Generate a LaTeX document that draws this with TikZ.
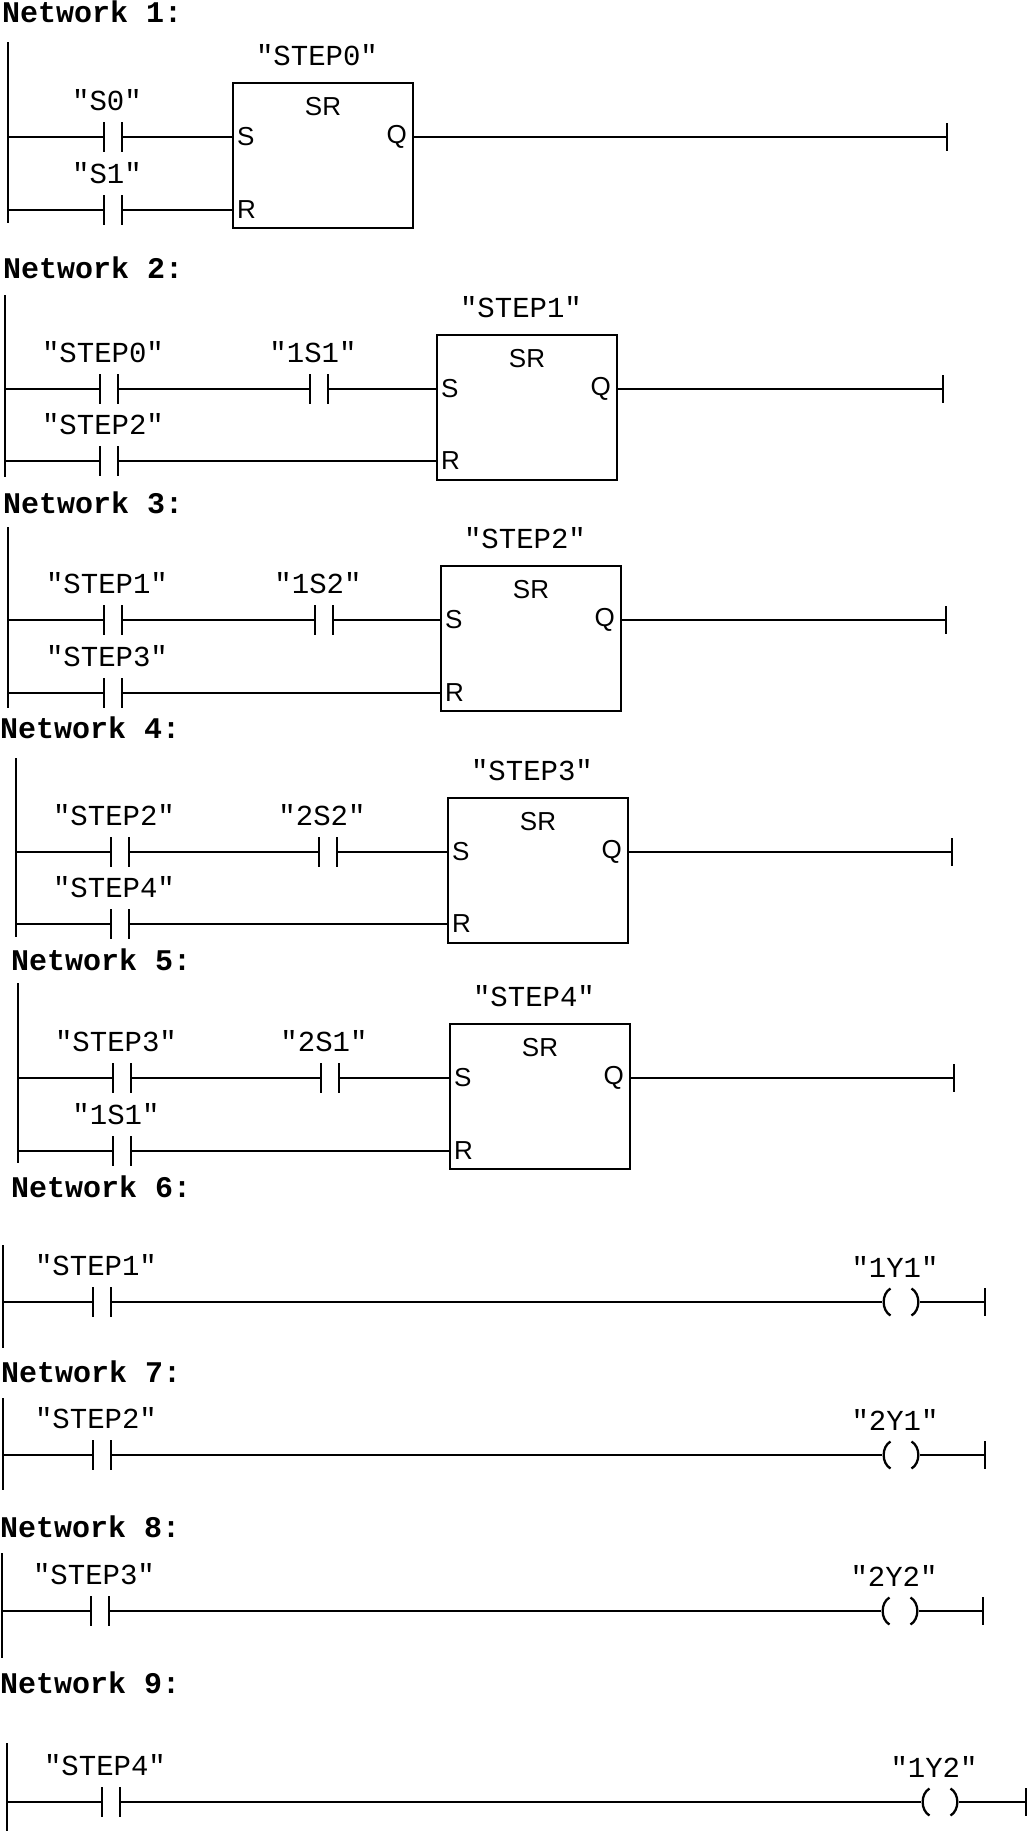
\documentclass[tikz,border=0pt]{standalone}
\usepackage{fontspec}
\newfontfamily\tagfont{Liberation Mono}
\newfontfamily\pinfont{Liberation Sans}
\usetikzlibrary{positioning}

\begin{document}
\begin{tikzpicture}[x=1pt,y=-1pt,
    ttl/.style={font=\tagfont\bfseries\fontsize{30}{30}\selectfont,anchor=base west,inner sep=0pt},
    tag/.style={font=\tagfont\fontsize{29}{29}\selectfont,inner sep=0pt,xshift=-6pt},
    ctag/.style={label={[tag,label distance=11pt]above:{#1}}},
    btag/.style={label={[tag,label distance=17.5pt]above:{#1}}},
    pinl/.style={font=\pinfont\fontsize{26}{26}\selectfont,inner sep=0pt},
    wire/.style={line width=2.3pt},
    contact/.style={minimum width=18pt,minimum height=30pt,inner sep=0pt,outer sep=0pt,
      append after command={(\tikzlastnode.north west) edge[wire] (\tikzlastnode.south west)
        (\tikzlastnode.north east) edge[wire] (\tikzlastnode.south east)}},
    coil/.style={minimum width=38pt,minimum height=27pt,inner sep=0pt,outer sep=0pt,
      append after command={([xshift=8.5pt]\tikzlastnode.north west) edge[wire,bend right=60] ([xshift=8.5pt]\tikzlastnode.south west)
        ([xshift=-8.5pt]\tikzlastnode.north east) edge[wire,bend left=60] ([xshift=-8.5pt]\tikzlastnode.south east)}},
    srbox/.style={draw,line width=2pt,minimum width=180pt,minimum height=145pt,inner sep=0pt,outer sep=0pt},
    endbar/.style={minimum width=0pt,minimum height=28pt,inner sep=0pt,outer sep=0pt,
      append after command={(\tikzlastnode.north) edge[wire] (\tikzlastnode.south)}}]
  \path[use as bounding box,fill=white] (0,0) rectangle (1028,1831);

  \node[ttl] (t1) at (2,22) {Network 1:};
  \coordinate (r1a) at (8,42);
  \coordinate (r1b) at (8,223);
  \node[contact,ctag={"S0"}] (c11) at (113,137) {};
  \node[contact,ctag={"S1"}] (c12) at (113,210) {};
  \node[srbox,btag={"STEP0"}] (b1) at (323,155.5) {};
  \node[pinl,below=14pt of b1.north] (b1n) {SR};
  \node[pinl,anchor=west,xshift=4pt] (b1s) at (b1.west |- c11) {S};
  \node[pinl,anchor=west,xshift=4pt] (b1r) at (b1.west |- c12) {R};
  \node[pinl,anchor=east,xshift=-6pt] (b1q) at (b1.east |- c11) {Q};
  \node[endbar] (e1) at (947,137) {};
  \draw[wire] (r1a) -- (r1b)
    (c11 -| r1a) -- (c11.west) (c11.east) -- (c11 -| b1.west)
    (c12 -| r1a) -- (c12.west) (c12.east) -- (c12 -| b1.west)
    (b1.east |- c11) -- (e1.center);

  \node[ttl] (t2) at (3,278) {Network 2:};
  \coordinate (r2a) at (5,295);
  \coordinate (r2b) at (5,477);
  \node[contact,ctag={"STEP0"}] (c21) at (109,389) {};
  \node[contact,ctag={"1S1"}] (c22) at (319,389) {};
  \node[contact,ctag={"STEP2"}] (c23) at (109,461) {};
  \node[srbox,btag={"STEP1"}] (b2) at (527,407.5) {};
  \node[pinl,below=14pt of b2.north] (b2n) {SR};
  \node[pinl,anchor=west,xshift=4pt] (b2s) at (b2.west |- c21) {S};
  \node[pinl,anchor=west,xshift=4pt] (b2r) at (b2.west |- c23) {R};
  \node[pinl,anchor=east,xshift=-6pt] (b2q) at (b2.east |- c21) {Q};
  \node[endbar] (e2) at (943,389) {};
  \draw[wire] (r2a) -- (r2b)
    (c21 -| r2a) -- (c21.west) (c21.east) -- (c22.west) (c22.east) -- (c22 -| b2.west)
    (c23 -| r2a) -- (c23.west) (c23.east) -- (c23 -| b2.west)
    (b2.east |- c21) -- (e2.center);

  \node[ttl] (t3) at (3,513) {Network 3:};
  \coordinate (r3a) at (8,527);
  \coordinate (r3b) at (8,708);
  \node[contact,ctag={"STEP1"}] (c31) at (113,620) {};
  \node[contact,ctag={"1S2"}] (c32) at (324,620) {};
  \node[contact,ctag={"STEP3"}] (c33) at (113,693) {};
  \node[srbox,btag={"STEP2"}] (b3) at (531,638.5) {};
  \node[pinl,below=14pt of b3.north] (b3n) {SR};
  \node[pinl,anchor=west,xshift=4pt] (b3s) at (b3.west |- c31) {S};
  \node[pinl,anchor=west,xshift=4pt] (b3r) at (b3.west |- c33) {R};
  \node[pinl,anchor=east,xshift=-6pt] (b3q) at (b3.east |- c31) {Q};
  \node[endbar] (e3) at (946,620) {};
  \draw[wire] (r3a) -- (r3b)
    (c31 -| r3a) -- (c31.west) (c31.east) -- (c32.west) (c32.east) -- (c32 -| b3.west)
    (c33 -| r3a) -- (c33.west) (c33.east) -- (c33 -| b3.west)
    (b3.east |- c31) -- (e3.center);

  \node[ttl] (t4) at (0,738) {Network 4:};
  \coordinate (r4a) at (16,758);
  \coordinate (r4b) at (16,937);
  \node[contact,ctag={"STEP2"}] (c41) at (120,852) {};
  \node[contact,ctag={"2S2"}] (c42) at (328,852) {};
  \node[contact,ctag={"STEP4"}] (c43) at (120,924) {};
  \node[srbox,btag={"STEP3"}] (b4) at (538,870.5) {};
  \node[pinl,below=14pt of b4.north] (b4n) {SR};
  \node[pinl,anchor=west,xshift=4pt] (b4s) at (b4.west |- c41) {S};
  \node[pinl,anchor=west,xshift=4pt] (b4r) at (b4.west |- c43) {R};
  \node[pinl,anchor=east,xshift=-6pt] (b4q) at (b4.east |- c41) {Q};
  \node[endbar] (e4) at (952,852) {};
  \draw[wire] (r4a) -- (r4b)
    (c41 -| r4a) -- (c41.west) (c41.east) -- (c42.west) (c42.east) -- (c42 -| b4.west)
    (c43 -| r4a) -- (c43.west) (c43.east) -- (c43 -| b4.west)
    (b4.east |- c41) -- (e4.center);

  \node[ttl] (t5) at (11,970) {Network 5:};
  \coordinate (r5a) at (18,983);
  \coordinate (r5b) at (18,1163);
  \node[contact,ctag={"STEP3"}] (c51) at (122,1078) {};
  \node[contact,ctag={"2S1"}] (c52) at (330,1078) {};
  \node[contact,ctag={"1S1"}] (c53) at (122,1151) {};
  \node[srbox,btag={"STEP4"}] (b5) at (540,1096.5) {};
  \node[pinl,below=14pt of b5.north] (b5n) {SR};
  \node[pinl,anchor=west,xshift=4pt] (b5s) at (b5.west |- c51) {S};
  \node[pinl,anchor=west,xshift=4pt] (b5r) at (b5.west |- c53) {R};
  \node[pinl,anchor=east,xshift=-6pt] (b5q) at (b5.east |- c51) {Q};
  \node[endbar] (e5) at (954,1078) {};
  \draw[wire] (r5a) -- (r5b)
    (c51 -| r5a) -- (c51.west) (c51.east) -- (c52.west) (c52.east) -- (c52 -| b5.west)
    (c53 -| r5a) -- (c53.west) (c53.east) -- (c53 -| b5.west)
    (b5.east |- c51) -- (e5.center);

  \node[ttl] (t6) at (11,1197) {Network 6:};
  \coordinate (r6a) at (3,1245);
  \coordinate (r6b) at (3,1348);
  \node[contact,ctag={"STEP1"}] (c61) at (102,1302) {};
  \node[coil,ctag={"1Y1"}] (k6) at (901,1302) {};
  \node[endbar] (e6) at (985,1302) {};
  \draw[wire] (r6a) -- (r6b)
    (c61 -| r6a) -- (c61.west) (c61.east) -- (k6.west) (k6.east) -- (e6.center);

  \node[ttl] (t7) at (1,1382) {Network 7:};
  \coordinate (r7a) at (3,1398);
  \coordinate (r7b) at (3,1490);
  \node[contact,ctag={"STEP2"}] (c71) at (102,1455) {};
  \node[coil,ctag={"2Y1"}] (k7) at (901,1455) {};
  \node[endbar] (e7) at (985,1455) {};
  \draw[wire] (r7a) -- (r7b)
    (c71 -| r7a) -- (c71.west) (c71.east) -- (k7.west) (k7.east) -- (e7.center);

  \node[ttl] (t8) at (0,1537) {Network 8:};
  \coordinate (r8a) at (2,1553);
  \coordinate (r8b) at (2,1658);
  \node[contact,ctag={"STEP3"}] (c81) at (100,1611) {};
  \node[coil,ctag={"2Y2"}] (k8) at (900,1611) {};
  \node[endbar] (e8) at (983,1611) {};
  \draw[wire] (r8a) -- (r8b)
    (c81 -| r8a) -- (c81.west) (c81.east) -- (k8.west) (k8.east) -- (e8.center);

  \node[ttl] (t9) at (0,1693) {Network 9:};
  \coordinate (r9a) at (7,1743);
  \coordinate (r9b) at (7,1831);
  \node[contact,ctag={"STEP4"}] (c91) at (111,1802) {};
  \node[coil,ctag={"1Y2"}] (k9) at (940,1802) {};
  \node[endbar] (e9) at (1026,1802) {};
  \draw[wire] (r9a) -- (r9b)
    (c91 -| r9a) -- (c91.west) (c91.east) -- (k9.west) (k9.east) -- (e9.center);
\end{tikzpicture}
\end{document}
